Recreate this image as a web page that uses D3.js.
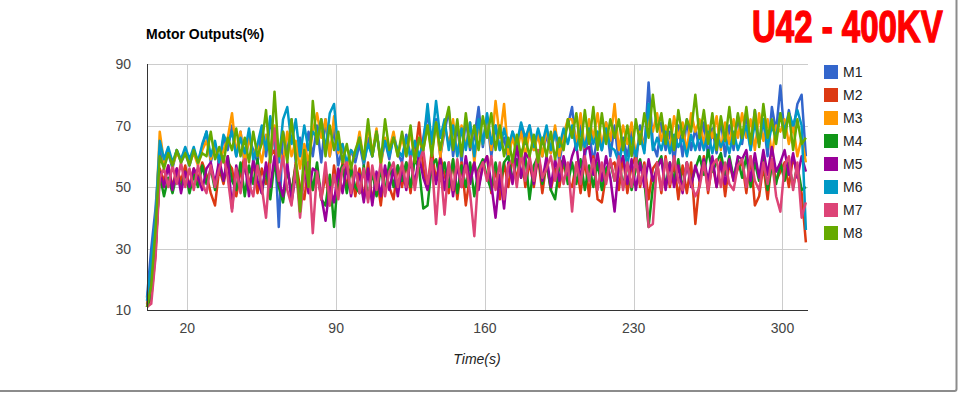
<!DOCTYPE html>
<html>
<head>
<meta charset="utf-8">
<script src="https://cdn.jsdelivr.net/npm/d3@7"></script>
<style>
  body { margin: 0; background: #fff; }
  text { font-family: "Liberation Sans", Arial, sans-serif; }
</style>
</head>
<body>
<svg id="chart" width="961" height="394"></svg>
<script>
// sample times: every 2 s starting at 1 s
var tStart = 1, tStep = 2;

var seriesNames = ["M1", "M2", "M3", "M4", "M5", "M6", "M7", "M8"];
var seriesColors = ["#3366cc", "#dc3912", "#ff9900", "#109618", "#990099", "#0099c6", "#dd4477", "#66aa00"];

var xTicks = [20, 90, 160, 230, 300];
var yTicks = [10, 30, 50, 70, 90];

var m1 = [
  14, 30, 43, 62, 57, 61, 56, 62, 58, 61,
  57, 62, 58, 63, 68, 58, 64, 57, 66, 62,
  70, 60, 68, 57, 66, 62, 58, 69, 60, 71,
  66, 37, 68, 61, 72, 58, 66, 56, 68, 60,
  70, 58, 72, 60, 69, 57, 63, 56, 62, 58,
  64, 57, 66, 60, 68, 58, 65, 59, 67, 61,
  58, 67, 60, 64, 58, 66, 74, 62, 72, 60,
  68, 75, 60, 70, 58, 72, 62, 66, 76, 63,
  72, 60, 70, 62, 66, 59, 68, 62, 70, 64,
  70, 62, 68, 60, 67, 61, 69, 58, 66, 70,
  76, 62, 70, 60, 68, 58, 67, 62, 71, 60,
  70, 58, 66, 60, 68, 57, 70, 62, 84, 64,
  60, 71, 62, 68, 58, 70, 60, 72, 62, 69,
  62, 71, 60, 69, 61, 72, 60, 70, 62, 73,
  64, 74, 62, 75, 64, 72, 60, 76, 68, 83,
  66, 75, 68, 77, 80, 60
];
var m2 = [
  11, 14, 28, 56, 52, 57, 50, 56, 52, 57,
  50, 56, 52, 58, 54, 48, 44, 56, 51, 58,
  56, 47, 55, 60, 50, 58, 48, 56, 51, 60,
  62, 52, 46, 56, 48, 58, 50, 46, 57, 49,
  56, 46, 54, 44, 57, 48, 58, 50, 57, 47,
  56, 46, 58, 45, 54, 44, 56, 50, 46, 57,
  50, 58, 48, 60, 71, 56, 50, 62, 52, 60,
  54, 48, 59, 46, 58, 44, 54, 58, 50, 57,
  60, 48, 56, 46, 58, 50, 60, 52, 62, 50,
  58, 50, 60, 48, 58, 49, 56, 50, 58, 52,
  50, 58, 48, 59, 47, 60, 46, 45, 54, 57,
  58, 49, 60, 48, 57, 60, 50, 58, 46, 56,
  58, 48, 60, 50, 58, 46, 57, 48, 58, 38,
  52, 60, 48, 58, 50, 59, 47, 58, 52, 56,
  58, 48, 60, 44, 47, 57, 46, 59, 52, 55,
  58, 50, 60, 54, 48, 32
];
var m3 = [
  12, 22, 38, 68, 58, 62, 57, 61, 59, 62,
  58, 61, 57, 62, 65, 59, 63, 58, 62, 66,
  74, 61, 68, 58, 66, 60, 64, 58, 67, 62,
  70, 62, 58, 68, 60, 65, 56, 64, 58, 68,
  74, 66, 72, 60, 73, 61, 64, 56, 62, 60,
  68, 58, 70, 61, 69, 57, 66, 62, 68, 60,
  66, 60, 68, 58, 65, 62, 70, 61, 71, 60,
  70, 64, 72, 60, 70, 63, 71, 58, 70, 64,
  73, 62, 78, 66, 77, 60, 66, 61, 68, 60,
  68, 62, 67, 60, 69, 61, 70, 60, 67, 72,
  72, 64, 74, 62, 72, 66, 74, 63, 71, 65,
  77, 62, 70, 64, 71, 60, 68, 63, 72, 68,
  74, 65, 70, 62, 73, 66, 71, 61, 74, 68,
  72, 64, 70, 66, 73, 62, 71, 64, 72, 66,
  74, 66, 72, 62, 74, 65, 72, 60, 70, 68,
  72, 64, 70, 60, 66, 58
];
var m4 = [
  11, 15, 30, 54, 47, 53, 48, 54, 50, 55,
  48, 54, 50, 57, 51, 56, 49, 58, 52, 60,
  52, 49, 58, 47, 57, 51, 59, 48, 56, 46,
  58, 50, 45, 56, 48, 57, 44, 55, 58, 49,
  58, 46, 44, 54, 37, 54, 57, 48, 56, 50,
  48, 57, 46, 55, 47, 56, 48, 58, 50, 57,
  52, 58, 50, 59, 56, 43, 44, 57, 59, 52,
  58, 50, 59, 48, 57, 50, 58, 47, 56, 59,
  53, 49, 58, 50, 58, 60, 52, 59, 53, 60,
  46, 57, 60, 51, 58, 49, 46, 57, 59, 51,
  58, 51, 59, 49, 57, 50, 58, 49, 56, 58,
  52, 59, 50, 58, 49, 56, 59, 52, 37, 50,
  57, 60, 50, 58, 52, 59, 49, 58, 51, 56,
  60, 54, 62, 55, 58, 61, 54, 60, 53, 59,
  53, 60, 50, 58, 52, 59, 49, 57, 51, 58,
  52, 58, 50, 57, 49, 50
];
var m5 = [
  11, 20, 30, 55, 50, 57, 49, 56, 48, 55,
  50, 56, 53, 49, 56, 58, 51, 59, 52, 60,
  43, 57, 49, 58, 47, 59, 52, 48, 58, 50,
  60, 52, 47, 58, 45, 54, 46, 57, 48, 56,
  55, 47, 39, 50, 45, 56, 48, 57, 47, 55,
  54, 45, 56, 44, 55, 47, 57, 49, 56, 47,
  57, 49, 59, 51, 60, 53, 49, 58, 51, 59,
  49, 58, 47, 57, 50, 60, 51, 58, 49, 57,
  60, 51, 40, 54, 43, 58, 51, 64, 53, 61,
  59, 51, 61, 52, 60, 50, 59, 52, 60, 54,
  60, 64, 52, 62, 63, 54, 61, 52, 60, 53,
  42, 57, 60, 51, 59, 49, 58, 50, 59, 52,
  56, 59, 49, 58, 50, 57, 48, 58, 50, 57,
  52, 59, 52, 60, 50, 58, 51, 59, 52, 60,
  59, 62, 52, 61, 53, 62, 54, 63, 55, 58,
  62, 54, 61, 53, 60, 55
];
var m6 = [
  13, 25, 40, 65, 59, 63, 58, 62, 59, 63,
  59, 63, 58, 64, 68, 60, 65, 58, 67, 64,
  68, 60, 66, 61, 69, 59, 64, 70, 62, 73,
  64, 58, 72, 76, 64, 72, 60, 70, 62, 68,
  66, 72, 62, 74, 77, 62, 64, 58, 62, 60,
  66, 58, 64, 60, 68, 59, 65, 60, 66, 62,
  60, 66, 59, 65, 60, 64, 77, 64, 78, 66,
  72, 62, 70, 60, 69, 62, 71, 60, 72, 64,
  74, 64, 70, 62, 69, 63, 68, 64, 71, 66,
  70, 63, 69, 64, 70, 62, 68, 63, 69, 64,
  70, 62, 68, 63, 69, 64, 68, 62, 69, 63,
  62, 58, 64, 57, 66, 60, 67, 61, 77, 62,
  66, 62, 68, 61, 67, 63, 66, 60, 67, 62,
  67, 62, 68, 61, 67, 63, 66, 61, 68, 62,
  66, 70, 62, 71, 64, 72, 63, 70, 66, 74,
  68, 74, 70, 75, 70, 36
];
var m7 = [
  11, 12, 27, 53, 56, 50, 57, 51, 58, 50,
  56, 49, 57, 51, 48, 57, 50, 56, 60, 53,
  42, 56, 48, 59, 51, 47, 57, 50, 40, 58,
  69, 52, 60, 49, 44, 57, 40, 54, 58, 35,
  55, 46, 58, 44, 54, 46, 56, 58, 48, 57,
  48, 56, 45, 57, 49, 58, 47, 55, 58, 50,
  58, 50, 60, 49, 58, 62, 51, 59, 38, 57,
  41, 58, 49, 59, 50, 57, 48, 34, 55, 58,
  52, 60, 49, 58, 46, 57, 59, 50, 62, 52,
  60, 52, 62, 53, 56, 60, 52, 59, 51, 58,
  42, 58, 51, 60, 52, 59, 49, 58, 51, 59,
  52, 60, 49, 58, 50, 59, 51, 57, 37, 38,
  58, 49, 59, 51, 60, 52, 49, 58, 51, 47,
  50, 58, 49, 57, 59, 50, 58, 51, 49, 57,
  59, 50, 60, 52, 49, 58, 51, 59, 47, 42,
  57, 60, 49, 58, 40, 45
];
var m8 = [
  11, 18, 36, 60, 56, 61, 57, 62, 58, 61,
  57, 62, 58, 61, 60, 68, 59, 63, 58, 66,
  62, 69, 60, 66, 58, 68, 60, 64, 75, 58,
  81, 60, 68, 58, 72, 60, 42, 62, 50, 78,
  64, 72, 60, 70, 62, 68, 58, 64, 56, 62,
  66, 59, 72, 60, 68, 58, 72, 62, 66, 60,
  68, 60, 70, 58, 66, 62, 70, 60, 71, 62,
  70, 76, 62, 72, 60, 74, 63, 70, 62, 73,
  66, 74, 62, 70, 60, 66, 58, 67, 60, 66,
  60, 67, 58, 66, 60, 68, 59, 66, 62, 72,
  66, 74, 62, 75, 64, 76, 62, 74, 64, 72,
  66, 72, 62, 70, 60, 72, 64, 74, 66, 80,
  68, 74, 64, 72, 62, 75, 66, 72, 68, 80,
  66, 75, 64, 74, 62, 73, 65, 76, 64, 74,
  66, 76, 64, 75, 63, 77, 66, 72, 64, 74,
  66, 74, 62, 72, 64, 66
];

var seriesValues = [m1, m2, m3, m4, m5, m6, m7, m8];

var svg = d3.select("#chart"),
    width = +svg.attr("width"),
    height = +svg.attr("height");

var plot = { left: 147, right: 808, top: 64, bottom: 310 };

var x = d3.scaleLinear().domain([1, 312]).range([plot.left, plot.right]);
var y = d3.scaleLinear().domain([10, 90]).range([plot.bottom, plot.top]);

svg.append("rect").attr("width", width).attr("height", height).attr("fill", "#fff");

// panel border (only right and bottom edges show)
svg.append("rect")
    .attr("x", -10).attr("y", -10)
    .attr("width", 966.5).attr("height", 401)
    .attr("rx", 2)
    .attr("fill", "none")
    .attr("stroke", "#8c8c8c")
    .attr("stroke-width", 2);

// grid
svg.append("g")
    .selectAll("line")
    .data(yTicks.slice(1))
    .enter().append("line")
    .attr("x1", plot.left).attr("x2", plot.right)
    .attr("y1", function(d) { return Math.round(y(d)) + 0.5; })
    .attr("y2", function(d) { return Math.round(y(d)) + 0.5; })
    .attr("stroke", "#cccccc");

svg.append("g")
    .selectAll("line")
    .data(xTicks)
    .enter().append("line")
    .attr("x1", function(d) { return Math.round(x(d)) + 0.5; })
    .attr("x2", function(d) { return Math.round(x(d)) + 0.5; })
    .attr("y1", plot.top).attr("y2", plot.bottom)
    .attr("stroke", "#cccccc");

// tick labels
svg.append("g")
    .selectAll("text")
    .data(yTicks)
    .enter().append("text")
    .attr("x", 131)
    .attr("y", function(d) { return y(d) + 5; })
    .attr("text-anchor", "end")
    .attr("font-size", 14)
    .attr("fill", "#444")
    .text(function(d) { return d; });

svg.append("g")
    .selectAll("text")
    .data(xTicks)
    .enter().append("text")
    .attr("x", function(d) { return x(d); })
    .attr("y", 333)
    .attr("text-anchor", "middle")
    .attr("font-size", 14)
    .attr("fill", "#444")
    .text(function(d) { return d; });

// lines
var line = d3.line()
    .x(function(d, i) { return x(tStart + i * tStep); })
    .y(function(d) { return y(d); });

svg.append("g")
    .selectAll("path")
    .data(seriesValues)
    .enter().append("path")
    .attr("d", line)
    .attr("fill", "none")
    .attr("stroke", function(d, i) { return seriesColors[i]; })
    .attr("stroke-width", 2.5)
    .attr("stroke-linejoin", "round");

// axis lines
svg.append("line")
    .attr("x1", plot.left + 0.5).attr("x2", plot.left + 0.5)
    .attr("y1", plot.top).attr("y2", plot.bottom + 1)
    .attr("stroke", "#333");
svg.append("line")
    .attr("x1", plot.left).attr("x2", plot.right)
    .attr("y1", plot.bottom + 0.5).attr("y2", plot.bottom + 0.5)
    .attr("stroke", "#333");

// titles
svg.append("text")
    .attr("x", 146).attr("y", 39)
    .attr("font-size", 14)
    .attr("font-weight", "bold")
    .attr("fill", "#000")
    .text("Motor Outputs(%)");

svg.append("text")
    .attr("x", 477).attr("y", 364)
    .attr("text-anchor", "middle")
    .attr("font-size", 14)
    .attr("font-style", "italic")
    .attr("fill", "#222")
    .text("Time(s)");

// badge text, squeezed horizontally to look like a condensed display face
svg.append("text")
    .attr("transform", "translate(752,42) scale(0.75,1)")
    .attr("font-size", 44)
    .attr("font-weight", "bold")
    .attr("fill", "#f00")
    .attr("stroke", "#f00")
    .attr("stroke-width", 1.4)
    .text("U42 - 400KV");

// legend
var legend = svg.append("g")
    .selectAll("g")
    .data(seriesNames)
    .enter().append("g")
    .attr("transform", function(d, i) { return "translate(824," + (65 + i * 23) + ")"; });

legend.append("rect")
    .attr("width", 14).attr("height", 14)
    .attr("fill", function(d, i) { return seriesColors[i]; });

legend.append("text")
    .attr("x", 19).attr("y", 12)
    .attr("font-size", 14)
    .attr("fill", "#222")
    .text(function(d) { return d; });
</script>
</body>
</html>
